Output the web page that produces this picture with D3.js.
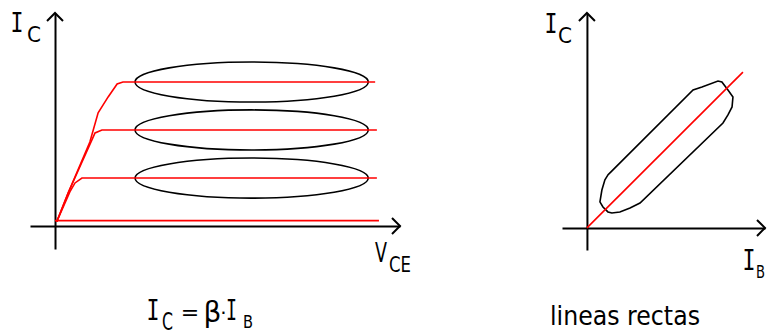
<!DOCTYPE html>
<html>
<head>
<meta charset="utf-8">
<script src="https://cdn.jsdelivr.net/npm/d3@7"></script>
<style>
	body { margin: 0; background: #fff; }
	svg { display: block; }
	.mono { font-family: "DejaVu Sans Mono", monospace; }
	.sans { font-family: "DejaVu Sans", sans-serif; }
</style>
</head>
<body>
<svg id="chart-1" width="768" height="336"></svg>
<script>
// Output characteristics: IC vs VCE, one curve per base current step
const outCurve0 = [[0, 0.25], [9.39, 0.25]];
const outCurve1 = [[0.05, 0.2], [0.43, 1.6], [0.58, 2.02], [0.78, 2.25], [9.33, 2.25]];
const outCurve2 = [[0.05, 0.2], [0.38, 1.55], [1.07, 4.04], [1.16, 4.37], [1.36, 4.51], [9.33, 4.51]];
const outCurve3 = [[0.05, 0.2], [0.38, 1.55], [1.01, 3.94], [1.25, 5.31], [1.54, 6.06], [1.80, 6.67], [1.97, 6.76], [9.28, 6.76]];

// active region highlighted by ellipses: [centre VCE, centre IC, half width, half height]
const ellipses = [[5.7, 6.76, 3.38, 0.94], [5.7, 4.51, 3.38, 0.94], [5.7, 2.25, 3.38, 0.94]];

// Transfer characteristic: IC vs IB
const transferLine = [[0, 0], [8.76, 8.76]];
const transferBand = [
	[1.18, 2.98], [5.96, 7.75], [6.46, 7.92], [7.36, 8.26], [7.58, 8.20], [7.92, 7.75],
	[8.20, 7.36], [8.15, 6.80], [7.92, 6.35], [7.64, 5.90], [2.98, 1.40], [2.42, 1.12],
	[1.85, 0.90], [1.40, 0.84], [1.18, 0.90], [0.90, 1.18], [0.73, 1.46], [0.84, 2.13], [1.01, 2.70]
];

const svg = d3.select('svg#chart-1');

// left panel scales (domain = visible axis extent)
const xL = d3.scaleLinear().domain([-0.725, 10]).range([30, 400]);
const yL = d3.scaleLinear().domain([-1.08, 10]).range([249, 13]);
// right panel scales
const xR = d3.scaleLinear().domain([-1.4, 10]).range([562, 765]);
const yR = d3.scaleLinear().domain([-1.24, 12.08]).range([250, 13]);

function drawAxes(x, y) {
	const g = svg.append('g');
	g.append('g')
		.attr('transform', `translate(0,${y(0)})`)
		.call(d3.axisBottom(x).tickValues([]).tickSizeOuter(0));
	g.append('g')
		.attr('transform', `translate(${x(0)},0)`)
		.call(d3.axisLeft(y).tickValues([]).tickSizeOuter(0));
	g.selectAll('.domain').attr('stroke', '#000').attr('stroke-width', 2);

	// open arrow heads at the ends
	const xe = x.range()[1], ye = y.range()[1];
	g.append('path')
		.attr('d', `M${xe - 8},${y(0) - 8}L${xe},${y(0)}L${xe - 8},${y(0) + 8}`)
		.attr('fill', 'none').attr('stroke', '#000').attr('stroke-width', 2);
	g.append('path')
		.attr('d', `M${x(0) - 8},${ye + 8}L${x(0)},${ye}L${x(0) + 8},${ye + 8}`)
		.attr('fill', 'none').attr('stroke', '#000').attr('stroke-width', 2);
}

drawAxes(xL, yL);
drawAxes(xR, yR);

// ellipses first so the red lines sit on top
svg.append('g').selectAll('ellipse').data(ellipses)
	.enter().append('ellipse')
		.attr('cx', d => xL(d[0]))
		.attr('cy', d => yL(d[1]))
		.attr('rx', d => xL(d[0] + d[2]) - xL(d[0]))
		.attr('ry', d => yL(d[1] - d[3]) - yL(d[1]))
		.attr('fill', 'none')
		.attr('stroke', '#000')
		.attr('stroke-width', 1.6);

const lineL = d3.line().x(d => xL(d[0])).y(d => yL(d[1]));
svg.append('g').selectAll('path').data([outCurve0, outCurve1, outCurve2, outCurve3])
	.enter().append('path')
		.attr('d', lineL)
		.attr('fill', 'none')
		.attr('stroke', '#ff0000')
		.attr('stroke-width', 1.6);

const lineR = d3.line().x(d => xR(d[0])).y(d => yR(d[1]));
svg.append('path')
	.attr('d', lineR.curve(d3.curveLinearClosed)(transferBand))
	.attr('fill', 'none')
	.attr('stroke', '#000')
	.attr('stroke-width', 1.6);
lineR.curve(d3.curveLinear);
svg.append('path')
	.attr('d', lineR(transferLine))
	.attr('fill', 'none')
	.attr('stroke', '#ff0000')
	.attr('stroke-width', 1.6);

// labels: one <text> per label, pieces as tspans
// part = [text, x, baseline y, class, font size, anchor, textLength]
function label(parts) {
	const t = svg.append('text').attr('fill', '#000');
	parts.forEach(p => {
		const s = t.append('tspan')
			.attr('class', p[3])
			.attr('x', p[1]).attr('y', p[2])
			.attr('font-size', p[4])
			.attr('text-anchor', p[5] || 'start')
			.text(p[0]);
		if (p[6]) s.attr('textLength', p[6]).attr('lengthAdjust', 'spacingAndGlyphs');
	});
	return t;
}

label([['I', 17, 32, 'mono', 27, 'middle', 13], ['C', 27, 42, 'sans', 22, 'start', 14]]);
label([['I', 551, 33, 'mono', 27, 'middle', 13], ['C', 558, 43, 'sans', 22, 'start', 14]]);
label([['I', 749, 270, 'mono', 28, 'middle', 13], ['B', 756, 278, 'sans', 18, 'start', 9]]);
label([['V', 375, 262, 'sans', 26, 'start', 12], ['CE', 389, 272, 'sans', 21, 'start', 22]]);
label([
	['I', 153, 320, 'mono', 28, 'middle', 13],
	['C', 162, 330, 'sans', 24, 'start', 11],
	['=', 190, 320, 'sans', 22, 'middle'],
	['β', 212.5, 322, 'sans', 28, 'middle'],
	['·', 223.5, 320, 'sans', 20, 'middle'],
	['I', 231.5, 320, 'mono', 28, 'middle', 11],
	['B', 243, 328, 'sans', 18, 'start', 10]
]);
label([['lineas rectas', 550, 325, 'sans', 27, 'start', 150]]);
</script>
</body>
</html>
